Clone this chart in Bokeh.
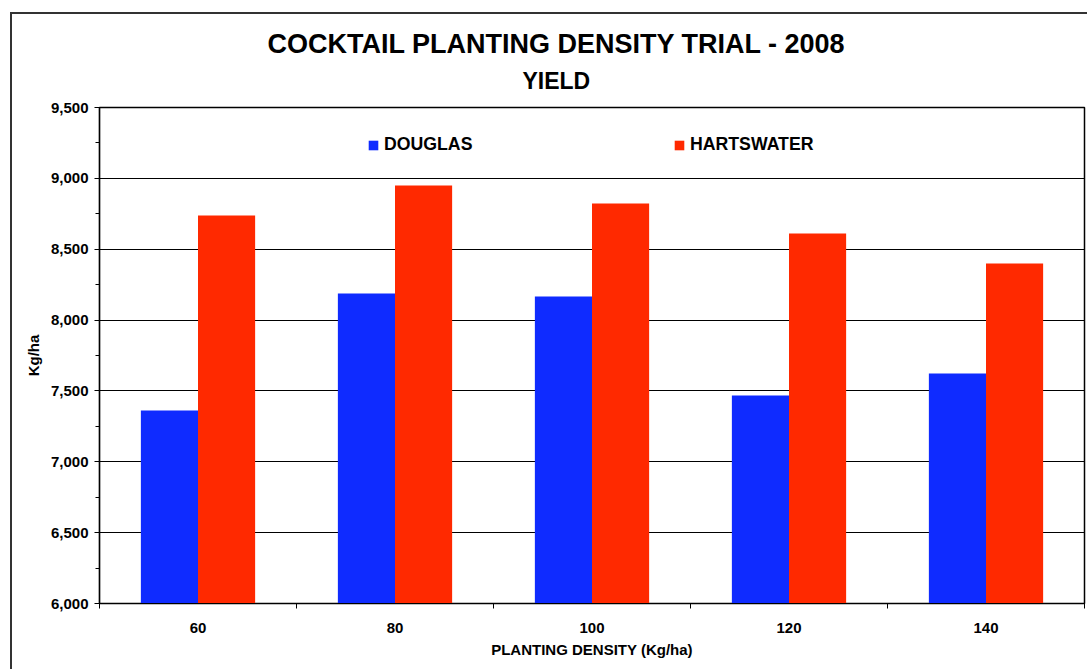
from bokeh.plotting import figure
from bokeh.models import (Range1d, FixedTicker, NumeralTickFormatter, Legend, LegendItem,
                          Title, ColumnDataSource)
from bokeh.transform import dodge
from bokeh.embed import file_html
from bokeh.resources import INLINE

densities = ["60", "80", "100", "120", "140"]
douglas = [7362, 8188, 8167, 7468, 7623]
hartswater = [8738, 8950, 8823, 8611, 8400]
y_ticks = [6000, 6500, 7000, 7500, 8000, 8500, 9000, 9500]

FONT = "Liberation Sans"
BLUE = "#0F2BFF"
RED = "#FF2900"

pos = [i + 0.5 for i in range(len(densities))]
src = ColumnDataSource(dict(x=pos, cat=densities, douglas=douglas, hartswater=hartswater))

p = figure(width=1077, height=657, output_backend="svg", toolbar_location=None,
           x_range=Range1d(0, len(densities)), y_range=Range1d(6000, 9500),
           min_border_left=87, min_border_top=93, min_border_right=5, min_border_bottom=68)
p.styles = {"border-left": "2px solid #333333", "border-top": "2px solid #333333",
            "margin-left": "10px", "margin-top": "12px"}

r1 = p.vbar(x=dodge("x", -0.145, range=p.x_range), top="douglas", bottom=6000, width=0.29,
            source=src, fill_color=BLUE, line_color=None)
r2 = p.vbar(x=dodge("x", 0.145, range=p.x_range), top="hartswater", bottom=6000, width=0.29,
            source=src, fill_color=RED, line_color=None)

p.outline_line_color = "black"
p.outline_line_width = 1.5
p.background_fill_color = "white"
p.border_fill_color = "white"

# grid
p.xgrid.grid_line_color = None
p.ygrid.grid_line_color = "black"
p.ygrid.grid_line_width = 1.2

# y axis
yax = p.yaxis[0]
yax.ticker = FixedTicker(ticks=y_ticks, minor_ticks=list(range(6000, 9501, 250)))
yax.formatter = NumeralTickFormatter(format="0,0")
yax.axis_line_color = "black"
yax.axis_line_width = 1.2
yax.major_tick_in = 0
yax.major_tick_out = 5
yax.minor_tick_in = 0
yax.minor_tick_out = 4
yax.major_tick_line_color = "black"
yax.minor_tick_line_color = "black"
yax.major_label_text_font = FONT
yax.major_label_text_font_style = "bold"
yax.major_label_text_font_size = "15px"
yax.major_label_text_color = "black"
yax.major_label_standoff = 6
yax.axis_label = "Kg/ha"
yax.axis_label_text_font = FONT
yax.axis_label_text_font_style = "bold"
yax.axis_label_text_font_size = "15px"
yax.axis_label_text_color = "black"
yax.axis_label_standoff = 6

# x axis
xax = p.xaxis[0]
xax.ticker = FixedTicker(ticks=pos, minor_ticks=list(range(len(densities) + 1)))
xax.major_label_overrides = {x: c for x, c in zip(pos, densities)}
xax.axis_line_color = "black"
xax.axis_line_width = 1.2
xax.major_tick_in = 0
xax.major_tick_out = 0
xax.minor_tick_in = 0
xax.minor_tick_out = 5
xax.minor_tick_line_color = "black"
xax.major_label_text_font = FONT
xax.major_label_text_font_style = "bold"
xax.major_label_text_font_size = "15px"
xax.major_label_text_color = "black"
xax.major_label_standoff = 14
xax.axis_label = "PLANTING DENSITY (Kg/ha)"
xax.axis_label_text_font = FONT
xax.axis_label_text_font_style = "bold"
xax.axis_label_text_font_size = "15px"
xax.axis_label_text_color = "black"
xax.axis_label_standoff = 5

# legends
for r, name, xloc in [(r1, "DOUGLAS", 268), (r2, "HARTSWATER", 574)]:
    lg = Legend(items=[LegendItem(label=name, renderers=[r])], location=(xloc, 448),
                padding=0, margin=0, border_line_color=None, background_fill_alpha=0,
                glyph_width=12, glyph_height=12, label_standoff=5,
                label_text_font=FONT, label_text_font_style="bold",
                label_text_font_size="17.7px", label_text_color="black")
    p.add_layout(lg, "center")

# titles
p.add_layout(Title(text="YIELD", align="left", offset=423, standoff=28,
                   vertical_align="bottom", text_font=FONT, text_font_style="bold",
                   text_font_size="23px", text_color="black"), "above")
p.add_layout(Title(text="COCKTAIL PLANTING DENSITY TRIAL - 2008", align="left", offset=168,
                   standoff=-15, vertical_align="bottom", text_font=FONT,
                   text_font_style="bold", text_font_size="27px", text_color="black"), "above")

open("out.html", "w").write(file_html(p, INLINE))
